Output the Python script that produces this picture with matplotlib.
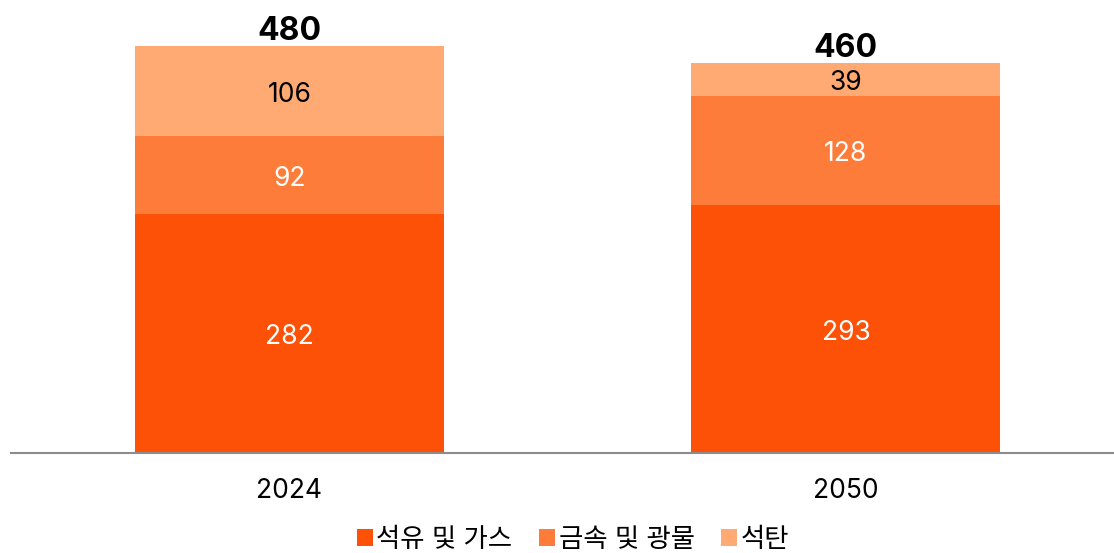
import numpy as np
import matplotlib
matplotlib.use("Agg")
import matplotlib.pyplot as plt
from matplotlib.patches import Patch

plt.rcParams['font.family'] = ['Inter', 'Noto Sans CJK KR', 'DejaVu Sans']

years = ['2024', '2050']
series = ['석유 및 가스', '금속 및 광물', '석탄']
oil_gas = [282, 293]
metals = [92, 128]
coal = [106, 39]
totals = [480, 460]

colors = ['#FD5108', '#FE7C39', '#FFAA72']
label_colors = ['white', 'white', 'black']

fig = plt.figure(figsize=(11.14, 5.53), dpi=100)
ax = fig.add_axes([11 / 1114, 100 / 553, 1 - 11 / 1114, 453 / 553])

x = np.arange(len(years))
width = 0.555
bottom = np.zeros(len(years))
for vals, col, lc, name in zip([oil_gas, metals, coal], colors, label_colors, series):
    vals = np.array(vals)
    ax.bar(x, vals, width, bottom=bottom, color=col, label=name, edgecolor='none')
    for xi, b, v in zip(x, bottom, vals):
        ax.text(xi, b + v / 2 - 4.5, str(v), ha='center', va='center', color=lc, fontsize=19)
    bottom += vals

for xi, t in zip(x, totals):
    ax.text(xi, t - 1.5, str(t), ha='center', va='bottom', fontsize=23, fontweight='bold')

ax.set_xlim(-0.5, 1.4816)
ax.set_ylim(0, 534.5)
ax.set_xticks(x)
ax.set_xticklabels(years, fontsize=19)
ax.tick_params(axis='x', length=0, pad=18)
ax.set_yticks([])
for s in ['top', 'right', 'left']:
    ax.spines[s].set_visible(False)
ax.spines['bottom'].set_color('#8c8c8c')
ax.spines['bottom'].set_linewidth(1.5)

handles = [Patch(facecolor=c, label=n) for c, n in zip(colors, series)]
fig.legend(handles=handles, loc='center', bbox_to_anchor=(573 / 1114, 1 - 540 / 553),
           ncol=3, frameon=False, fontsize=19, handlelength=0.6, handleheight=0.6,
           handletextpad=0.15, columnspacing=1.0, borderaxespad=0)

fig.savefig('out.png', dpi=100)
